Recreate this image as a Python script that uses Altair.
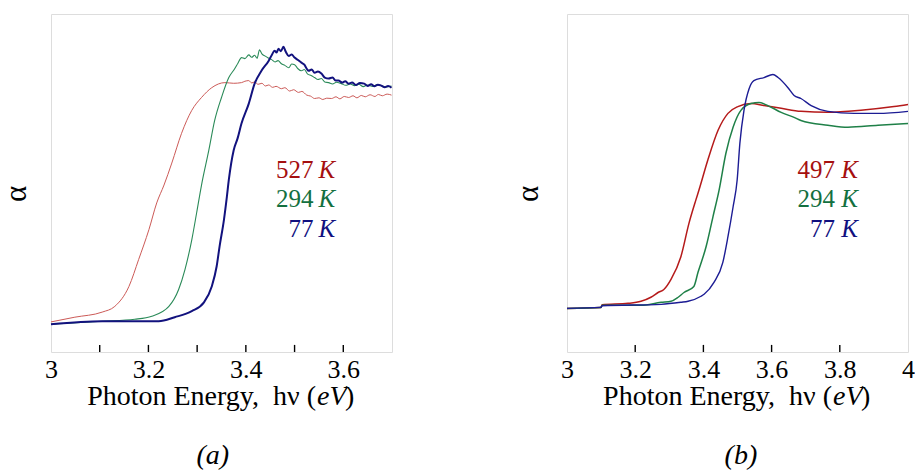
import altair as alt
import pandas as pd

# ---------------- Panel (a) data : photon energy (eV) vs alpha (arb.) ----------------
a_red_x = [3.000, 3.049, 3.105, 3.131, 3.160, 3.180, 3.201, 3.217, 3.232, 3.248, 3.268, 3.289,
           3.309, 3.330, 3.357, 3.375, 3.391, 3.398, 3.406, 3.412, 3.418, 3.425, 3.433, 3.440,
           3.447, 3.455, 3.462, 3.473, 3.480, 3.490, 3.498, 3.508, 3.515, 3.525, 3.533, 3.541,
           3.550, 3.558, 3.566, 3.576, 3.585, 3.593, 3.602, 3.611, 3.620, 3.628, 3.637, 3.645,
           3.655, 3.665, 3.672, 3.680, 3.690, 3.699]
a_red_y = [0.089, 0.103, 0.118, 0.135, 0.194, 0.274, 0.362, 0.441, 0.494, 0.559, 0.647, 0.715,
           0.753, 0.782, 0.797, 0.795, 0.797, 0.801, 0.803, 0.796, 0.799, 0.792, 0.795, 0.787,
           0.790, 0.783, 0.786, 0.779, 0.782, 0.772, 0.776, 0.768, 0.771, 0.760, 0.757, 0.750,
           0.752, 0.747, 0.751, 0.750, 0.755, 0.749, 0.756, 0.753, 0.758, 0.752, 0.759, 0.755,
           0.761, 0.756, 0.762, 0.758, 0.763, 0.760]

a_green_x = [3.000, 3.105, 3.172, 3.207, 3.242, 3.262, 3.275, 3.289, 3.299, 3.309, 3.324, 3.336,
             3.350, 3.365, 3.377, 3.384, 3.391, 3.398, 3.406, 3.412, 3.418, 3.423, 3.428, 3.433,
             3.439, 3.446, 3.453, 3.460, 3.466, 3.473, 3.480, 3.488, 3.494, 3.500, 3.507, 3.514,
             3.520, 3.527, 3.534, 3.541, 3.548, 3.555, 3.562, 3.570, 3.578, 3.586, 3.596, 3.605,
             3.614, 3.623, 3.632, 3.641, 3.650, 3.660, 3.670, 3.678, 3.687, 3.699]
a_green_y = [0.082, 0.091, 0.097, 0.106, 0.135, 0.185, 0.244, 0.332, 0.412, 0.494, 0.597, 0.685,
             0.753, 0.812, 0.838, 0.855, 0.871, 0.868, 0.879, 0.872, 0.878, 0.869, 0.894, 0.882,
             0.876, 0.870, 0.865, 0.858, 0.862, 0.853, 0.848, 0.841, 0.852, 0.850, 0.838, 0.832,
             0.836, 0.822, 0.818, 0.812, 0.806, 0.809, 0.799, 0.797, 0.793, 0.798, 0.794, 0.789,
             0.793, 0.788, 0.792, 0.785, 0.790, 0.786, 0.791, 0.788, 0.784, 0.787]

a_blue_x = [3.000, 3.105, 3.221, 3.254, 3.289, 3.314, 3.330, 3.340, 3.346, 3.355, 3.361, 3.365,
            3.375, 3.383, 3.391, 3.406, 3.418, 3.432, 3.447, 3.453, 3.459, 3.463, 3.467, 3.472,
            3.477, 3.482, 3.488, 3.494, 3.500, 3.507, 3.514, 3.520, 3.525, 3.529, 3.535, 3.541,
            3.548, 3.555, 3.562, 3.570, 3.578, 3.584, 3.590, 3.598, 3.604, 3.611, 3.618, 3.626,
            3.634, 3.643, 3.650, 3.657, 3.664, 3.671, 3.678, 3.685, 3.692, 3.699]
a_blue_y = [0.082, 0.091, 0.091, 0.103, 0.121, 0.147, 0.194, 0.253, 0.312, 0.391, 0.459, 0.509,
            0.597, 0.632, 0.676, 0.735, 0.794, 0.832, 0.862, 0.878, 0.891, 0.886, 0.897, 0.890,
            0.903, 0.888, 0.876, 0.880, 0.871, 0.864, 0.856, 0.850, 0.838, 0.832, 0.836, 0.826,
            0.830, 0.824, 0.812, 0.809, 0.812, 0.803, 0.803, 0.797, 0.801, 0.794, 0.797, 0.790,
            0.796, 0.794, 0.787, 0.792, 0.786, 0.791, 0.788, 0.783, 0.787, 0.782]

# ---------------- Panel (b) data ----------------
b_red_x = [3.000, 3.0997, 3.103, 3.179, 3.217, 3.246, 3.267, 3.284, 3.305, 3.334, 3.358, 3.378,
           3.387, 3.413, 3.443, 3.472, 3.501, 3.540, 3.578, 3.628, 3.686, 3.765, 3.862, 3.959, 4.000]
b_red_y = [0.129, 0.132, 0.140, 0.144, 0.150, 0.162, 0.176, 0.185, 0.215, 0.282, 0.382, 0.450,
           0.479, 0.568, 0.656, 0.706, 0.726, 0.735, 0.729, 0.721, 0.712, 0.709, 0.715, 0.726, 0.732]

b_green_x = [3.000, 3.0997, 3.103, 3.217, 3.276, 3.305, 3.326, 3.343, 3.372, 3.384, 3.408, 3.428,
             3.446, 3.466, 3.487, 3.510, 3.540, 3.563, 3.589, 3.628, 3.666, 3.686, 3.765, 3.824,
             3.912, 4.000]
b_green_y = [0.129, 0.132, 0.138, 0.138, 0.147, 0.150, 0.162, 0.176, 0.194, 0.235, 0.312, 0.400,
             0.479, 0.588, 0.665, 0.715, 0.735, 0.738, 0.729, 0.709, 0.694, 0.685, 0.671, 0.665,
             0.671, 0.676]

b_blue_x = [3.000, 3.0997, 3.103, 3.276, 3.334, 3.355, 3.393, 3.402, 3.431, 3.457, 3.472, 3.487,
            3.499, 3.507, 3.519, 3.534, 3.548, 3.578, 3.604, 3.619, 3.648, 3.666, 3.686, 3.716,
            3.765, 3.842, 3.912, 4.000]
b_blue_y = [0.129, 0.132, 0.137, 0.141, 0.147, 0.150, 0.165, 0.171, 0.206, 0.265, 0.341, 0.429,
            0.509, 0.618, 0.715, 0.779, 0.803, 0.812, 0.821, 0.812, 0.782, 0.759, 0.750, 0.729,
            0.712, 0.706, 0.706, 0.712]

# axis labels and inner tick marks
a_label_values = [3, 3.2, 3.4, 3.6]
a_tick_values = [3.1, 3.2, 3.3, 3.4, 3.5, 3.6]
b_label_values = [3, 3.2, 3.4, 3.6, 3.8, 4]
b_tick_values = [3.2, 3.4, 3.6, 3.8]

a_series = ["527", "294", "77"]
b_series = ["497", "294", "77"]

# ---------------- styles ----------------
SERIF = "Liberation Serif"
W, H = 341, 338
a_line_colors = ["#cc5a57", "#2a8a58", "#12127e"]
a_line_widths = [1.0, 1.1, 2.0]
b_line_colors = ["#b51a1a", "#1f8048", "#1c1c94"]
b_line_widths = [1.5, 1.5, 1.4]
text_colors = ["#a50f0f", "#137040", "#10107f"]
NB = "\u00a0"

# annotation anchors (data units)
LEG_Y = [0.515, 0.430, 0.341]
TITLE_Y = -0.158
PANEL_Y = -0.330
ALPHA_Y = 0.468


def panel(curves, xdomain, label_values, tick_values, series, num_right_x, k_left_x,
          title_right_x, close_left_x, panel_x, panel_name, alpha_x):
    xs = alt.Scale(domain=xdomain, nice=False, zero=False)
    ys = alt.Scale(domain=[0, 1], nice=False, zero=False)
    xaxis = alt.Axis(values=label_values, format="~g", title=None, ticks=False, domain=False,
                     grid=False, labelFont=SERIF, labelFontSize=26, labelColor="black",
                     labelPadding=4, labelFlush=False)
    X = lambda f: alt.X(f, type="quantitative", scale=xs, axis=xaxis)
    Y = lambda f: alt.Y(f, type="quantitative", scale=ys, axis=None)

    layers = []
    for (cx, cy), col, sw in curves:
        df = pd.DataFrame({"x": cx, "y": cy})
        layers.append(alt.Chart(df).mark_line(color=col, strokeWidth=sw, interpolate="monotone")
                      .encode(x=X("x"), y=Y("y")))
    tdf = pd.DataFrame({"x": tick_values, "y0": [0.0] * len(tick_values),
                        "y1": [0.021] * len(tick_values)})
    layers.append(alt.Chart(tdf).mark_rule(color="black", strokeWidth=1.4)
                  .encode(x=X("x"), y=Y("y0"), y2="y1"))

    leg = pd.DataFrame({"name": series, "x": [num_right_x] * 3, "kx": [k_left_x] * 3,
                        "y": LEG_Y, "k": ["K"] * 3})
    cscale = alt.Scale(domain=series, range=text_colors)
    layers.append(alt.Chart(leg).mark_text(align="right", baseline="alphabetic", font=SERIF,
                                           fontSize=25)
                  .encode(x=X("x"), y=Y("y"), text="name:N",
                          color=alt.Color("name:N", scale=cscale, legend=None)))
    layers.append(alt.Chart(leg).mark_text(align="left", baseline="alphabetic", font=SERIF,
                                           fontSize=25, fontStyle="italic")
                  .encode(x=X("kx"), y=Y("y"), text="k:N",
                          color=alt.Color("name:N", scale=cscale, legend=None)))

    t1 = pd.DataFrame({"x": [title_right_x], "y": [TITLE_Y],
                       "t": ["Photon" + NB + "Energy," + NB + NB + "h\u03bd" + NB + "("]})
    t2 = pd.DataFrame({"x": [title_right_x], "y": [TITLE_Y], "t": ["eV"]})
    t3 = pd.DataFrame({"x": [close_left_x], "y": [TITLE_Y], "t": [")"]})
    t4 = pd.DataFrame({"x": [panel_x], "y": [PANEL_Y], "t": [panel_name]})
    t5 = pd.DataFrame({"x": [alpha_x], "y": [ALPHA_Y], "t": ["\u03b1"]})
    layers.append(alt.Chart(t1).mark_text(align="right", baseline="alphabetic", font=SERIF,
                                          fontSize=28, color="black")
                  .encode(x=X("x"), y=Y("y"), text="t:N"))
    layers.append(alt.Chart(t2).mark_text(align="left", baseline="alphabetic", font=SERIF,
                                          fontSize=28, fontStyle="italic", color="black", dx=1)
                  .encode(x=X("x"), y=Y("y"), text="t:N"))
    layers.append(alt.Chart(t3).mark_text(align="left", baseline="alphabetic", font=SERIF,
                                          fontSize=28, color="black")
                  .encode(x=X("x"), y=Y("y"), text="t:N"))
    layers.append(alt.Chart(t4).mark_text(align="center", baseline="alphabetic", font=SERIF,
                                          fontSize=28, fontStyle="italic", color="black")
                  .encode(x=X("x"), y=Y("y"), text="t:N"))
    layers.append(alt.Chart(t5).mark_text(align="center", baseline="middle", font=SERIF,
                                          fontSize=31, angle=270, color="black")
                  .encode(x=X("x"), y=Y("y"), text="t:N"))
    return alt.layer(*layers).properties(width=W, height=H)


pa = panel([((a_red_x, a_red_y), a_line_colors[0], a_line_widths[0]),
            ((a_green_x, a_green_y), a_line_colors[1], a_line_widths[1]),
            ((a_blue_x, a_blue_y), a_line_colors[2], a_line_widths[2])],
           [3, 3.7], a_label_values, a_tick_values, a_series,
           3.539, 3.549, 3.544, 3.6035, 3.332, "(a)", 2.930)
pb = panel([((b_red_x, b_red_y), b_line_colors[0], b_line_widths[0]),
            ((b_green_x, b_green_y), b_line_colors[1], b_line_widths[1]),
            ((b_blue_x, b_blue_y), b_line_colors[2], b_line_widths[2])],
           [3, 4], b_label_values, b_tick_values, b_series,
           3.786, 3.804, 3.777, 3.862, 3.510, "(b)", 2.890)

chart = (alt.hconcat(pa, pb, spacing=175, bounds="flush")
         .properties(padding={"left": 0, "top": 13, "right": 0, "bottom": 0})
         .configure_view(stroke="black", strokeWidth=3)
         .configure(background="white"))

chart.save("out.html", embed_options={"renderer": "svg", "actions": False})
